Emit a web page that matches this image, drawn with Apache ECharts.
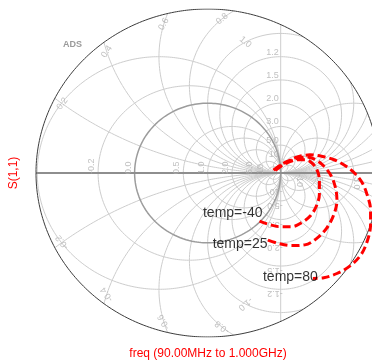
<!DOCTYPE html>
<html>
<head>
<meta charset="utf-8">
<script src="https://cdn.jsdelivr.net/npm/echarts@6/dist/echarts.min.js"></script>
<style>
html,body{margin:0;padding:0;background:#fff;}
#chart{width:372px;height:362px;}
</style>
</head>
<body>
<div id="chart"></div>
<script>
// Normalised resistance circles of the grid (r = 0 and r = -1 are drawn separately)
const resistanceValues = [-0.4, -0.2, 0.5, 1, 2, 5, 10, -10, -5, -3, -2];
// Normalised reactance circles, drawn for +x and -x
const reactanceValues = [0.2, 0.4, 0.6, 0.8, 1.0, 1.2, 1.5, 2.0, 3.0, 5.0, 10];

// Tick labels along the real axis
const realAxisTicks = [-0.2, 0, 0.5, 1, 2, 5, 10];
const realAxisTickLabels = ['-0.2', '0.0', '0.5', '1.0', '2.0', '5.0', '10'];
const negAxisTicks = [-10, -5, -3];
const negAxisTickLabels = ['-10', '-5.0', '-3.0'];
// Reactance labels near the rim
const rimTicks = [0.2, 0.4, 0.6, 0.8, 1.0];
const rimTickLabels = ['0.2', '0.4', '0.6', '0.8', '1.0'];
// Reactance labels on the r = -1 line
const lineTicks = [1.2, 1.5, 2.0, 3.0, 5.0, 10];
const lineTickLabels = ['1.2', '1.5', '2.0', '3.0', '5.0', '10'];

// S(1,1) sweeps, 90 MHz to 1 GHz: real and imaginary parts
const traceNames = ['temp=-40', 'temp=25', 'temp=80'];
const s11ReM40 = [0.93, 1.01, 1.12, 1.23, 1.34, 1.44, 1.51, 1.53, 1.53, 1.49, 1.41, 1.29, 1.15, 1.00, 0.85, 0.71];
const s11ImM40 = [0.04, 0.10, 0.16, 0.19, 0.19, 0.13, 0.01, -0.13, -0.30, -0.47, -0.61, -0.71, -0.77, -0.77, -0.74, -0.69];
const s11Re25 = [0.92, 1.00, 1.11, 1.23, 1.36, 1.48, 1.59, 1.69, 1.75, 1.77, 1.73, 1.63, 1.49, 1.33, 1.15, 0.97, 0.82];
const s11Im25 = [0.04, 0.11, 0.17, 0.21, 0.23, 0.19, 0.10, -0.04, -0.21, -0.39, -0.59, -0.79, -0.94, -1.03, -1.04, -1.01, -0.96];
const s11Re80 = [0.90, 0.99, 1.10, 1.23, 1.40, 1.56, 1.73, 1.89, 2.01, 2.11, 2.18, 2.23, 2.23, 2.19, 2.10, 1.95, 1.77, 1.59, 1.44];
const s11Im80 = [0.04, 0.11, 0.17, 0.23, 0.26, 0.24, 0.19, 0.10, 0.00, -0.13, -0.30, -0.53, -0.74, -0.96, -1.17, -1.33, -1.44, -1.50, -1.51];

// ---- drawing ----
const RIM = 2.35;      // radius of the outer rim, in reflection-coefficient units
const X_RIGHT = 2.25;  // right edge of the plotting area
const GRID_COLOR = '#cdcdcd';
const TICK_COLOR = '#b0b0b0';
const FONT = '"Liberation Sans", Arial, sans-serif';

function circleSegments(cu, cv, rad, limit) {
  const n = Math.max(720, Math.ceil(rad * 900));
  const segs = [];
  let cur = [];
  let startInside = false, endInside = false;
  for (let i = 0; i <= n; i++) {
    const t = (i / n) * 2 * Math.PI;
    const u = cu + rad * Math.cos(t), v = cv + rad * Math.sin(t);
    const inside = u * u + v * v <= limit * limit;
    if (i === 0) startInside = inside;
    if (i === n) endInside = inside;
    if (inside) cur.push([u, v]);
    else { if (cur.length > 1) segs.push(cur); cur = []; }
  }
  if (cur.length > 1) segs.push(cur);
  if (segs.length > 1 && startInside && endInside) {
    const last = segs.pop();
    segs[0] = last.concat(segs[0]);
  }
  return segs;
}

const series = [];
function addSegments(segs, color, width, z) {
  segs.forEach(function (seg) {
    series.push({
      type: 'line', data: seg, symbol: 'none', silent: true, animation: false,
      lineStyle: { color: color, width: width }, z: z
    });
  });
}

// resistance circles: centre r/(1+r), radius 1/|1+r|
resistanceValues.forEach(function (r) {
  addSegments(circleSegments(r / (1 + r), 0, 1 / Math.abs(1 + r), RIM), GRID_COLOR, 1, 1);
});
// reactance circles: centre (1, 1/x), radius 1/|x|
reactanceValues.forEach(function (x) {
  addSegments(circleSegments(1, 1 / x, 1 / x, RIM), GRID_COLOR, 1, 1);
  addSegments(circleSegments(1, -1 / x, 1 / x, RIM), GRID_COLOR, 1, 1);
});
// r = -1 is the straight line Re = 1
const lineHalf = Math.sqrt(RIM * RIM - 1);
addSegments([[[1, -lineHalf], [1, lineHalf]]], GRID_COLOR, 1, 1);
// r = 0 circle
addSegments(circleSegments(0, 0, 1, RIM + 1), '#9c9c9c', 1.5, 2);
// real axis
addSegments([[[-RIM, 0], [X_RIGHT, 0]]], '#8e8e8e', 2, 2);
// outer rim
addSegments(circleSegments(0, 0, RIM, RIM + 1), '#3c3c3c', 1, 3);

// S(1,1) traces
const traces = [[s11ReM40, s11ImM40], [s11Re25, s11Im25], [s11Re80, s11Im80]];
traces.forEach(function (t, k) {
  series.push({
    type: 'line', name: traceNames[k], animation: false, z: 10,
    data: t[0].map(function (re, i) { return [re, t[1][i]]; }),
    symbol: 'none', smooth: 0.35,
    lineStyle: { color: '#ff0000', width: 3, type: [8, 4] }
  });
});

// trace names at the end of each sweep
const traceLabelOffsets = [[3, -8], [0, 4], [5, -1]];
series.push({
  type: 'scatter', animation: false, silent: true, z: 12,
  symbolSize: 1, itemStyle: { color: 'rgba(0,0,0,0)' },
  data: traces.map(function (t, k) {
    const n = t[0].length - 1;
    return {
      value: [t[0][n], t[1][n]],
      label: {
        show: true, position: 'inside', formatter: traceNames[k],
        align: 'right', verticalAlign: 'middle', offset: traceLabelOffsets[k],
        color: '#000', fontSize: 14, fontFamily: FONT
      }
    };
  })
});

// grid tick labels
const tickItems = [];
function tick(u, v, text, rotate, align, vAlign, offset) {
  tickItems.push({
    value: [u, v],
    label: {
      show: true, position: 'inside', formatter: text, rotate: rotate,
      align: align, verticalAlign: vAlign, offset: offset || [0, 0],
      color: TICK_COLOR, fontSize: 9, fontFamily: FONT
    }
  });
}
realAxisTicks.forEach(function (r, i) {
  tick((r - 1) / (r + 1), 0, realAxisTickLabels[i], 90, 'left', 'bottom', [-1, -2]);
});
negAxisTicks.forEach(function (r, i) {
  tick((r - 1) / (r + 1), 0, negAxisTickLabels[i], -90, 'left', 'bottom', [1, 2]);
});
// rim labels sit where each reactance circle meets a ring inside the rim
const rimRotation = { 0.2: 52, 0.4: 55, 0.6: 60, 0.8: 38, 1.0: -40 };
function ringCrossing(x, rho) {
  // solve |G| = rho on the circle (u-1)^2 + (v-1/x)^2 = 1/x^2, taking the left-most root
  let best = null;
  for (let i = 0; i <= 4000; i++) {
    const t = (i / 4000) * 2 * Math.PI;
    const u = 1 + Math.cos(t) / x, v = 1 / x + Math.sin(t) / x;
    const d = Math.abs(Math.hypot(u, v) - rho);
    if (d < 0.004 && (best === null || u < best[0])) best = [u, v];
  }
  return best;
}
rimTicks.forEach(function (x, i) {
  const p = ringCrossing(x, x >= 1 ? 1.95 : 2.22);
  const rot = rimRotation[x];
  tick(p[0], p[1], rimTickLabels[i], rot, 'center', 'middle');
  tick(p[0], -p[1], '-' + rimTickLabels[i], 180 - rot, 'center', 'middle');
});
lineTicks.forEach(function (x, i) {
  tick(1, 2 / x, lineTickLabels[i], 0, 'right', 'bottom', [-2, 0]);
  tick(1, -2 / x, '-' + lineTickLabels[i], 180, 'left', 'bottom', [-2, 0]);
});
series.push({
  type: 'scatter', animation: false, silent: true, z: 5,
  symbolSize: 1, itemStyle: { color: 'rgba(0,0,0,0)' },
  data: tickItems
});

const chart = echarts.init(document.getElementById('chart'), null, { renderer: 'canvas' });
chart.setOption({
  animation: false,
  backgroundColor: '#fff',
  grid: { left: 36, top: 9, width: 336, height: 328, containLabel: false },
  xAxis: { type: 'value', min: -RIM, max: X_RIGHT, show: false },
  yAxis: { type: 'value', min: -RIM, max: RIM, show: false },
  series: series,
  graphic: [
    { type: 'text', left: 63, top: 40, silent: true,
      style: { text: 'ADS', fill: '#9a9a9a', font: 'bold 9px ' + FONT } },
    { type: 'text', x: 14, y: 173, rotation: Math.PI / 2, silent: true,
      style: { text: 'S(1,1)', fill: '#ff0000', font: '12px ' + FONT, align: 'center', verticalAlign: 'middle' } },
    { type: 'text', x: 208, y: 354, silent: true,
      style: { text: 'freq (90.00MHz to 1.000GHz)', fill: '#ff0000', font: '12px ' + FONT, align: 'center', verticalAlign: 'middle' } }
  ]
});
</script>
</body>
</html>
